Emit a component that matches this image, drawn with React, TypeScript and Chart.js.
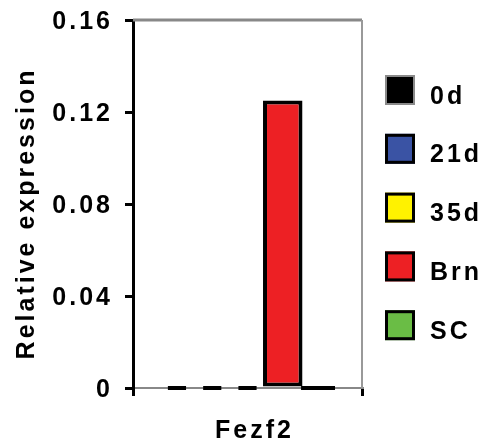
import React, { useEffect, useRef } from 'react';
import { Chart, registerables } from 'chart.js';

Chart.register(...registerables);

// ---- data ----
const categories = ['Fezf2'];
const seriesNames = ['0d', '21d', '35d', 'Brn', 'SC'];
const values0d = [0];
const values21d = [0];
const values35d = [0];
const valuesBrn = [0.125];
const valuesSC = [0];
const yTicks = [0, 0.04, 0.08, 0.12, 0.16];
const yTitle = 'Relative expression';

// ---- styles ----
const seriesColors = ['#000000', '#3A53A4', '#FFF200', '#ED2024', '#6ABD45'];
const legendBorders = ['#8a8a8a', '#000000', '#000000', '#000000', '#000000'];
const dashFractions = [0.46, 0.46, 0.46, 0.46, 0.86];
const FONT = '"Liberation Sans", Arial, sans-serif';
const FONT_SIZE = 25;
const SPACING = '3px';

const spacingPlugin = {
  id: 'letterSpacing',
  beforeUpdate(chart: any) { chart.ctx.letterSpacing = SPACING; },
  beforeLayout(chart: any) { chart.ctx.letterSpacing = SPACING; },
  beforeDraw(chart: any) { chart.ctx.letterSpacing = SPACING; },
};

const framePlugin = {
  id: 'frame',
  beforeDatasetsDraw(chart: any) {
    const { ctx, chartArea } = chart;
    ctx.save();
    ctx.strokeStyle = '#888888';
    ctx.lineWidth = 3;
    ctx.beginPath();
    ctx.moveTo(chartArea.left, chartArea.top);
    ctx.lineTo(chartArea.right, chartArea.top);
    ctx.stroke();
    ctx.strokeStyle = '#999999';
    ctx.lineWidth = 2;
    ctx.beginPath();
    ctx.moveTo(chartArea.right, chartArea.top);
    ctx.lineTo(chartArea.right, chartArea.bottom);
    ctx.stroke();
    ctx.restore();
  },
};

const zeroDashPlugin = {
  id: 'zeroDash',
  afterDatasetsDraw(chart: any) {
    const ctx = chart.ctx;
    chart.data.datasets.forEach((ds: any, i: number) => {
      const meta = chart.getDatasetMeta(i);
      meta.data.forEach((el: any, j: number) => {
        if (ds.data[j] !== 0) return;
        const { x, width, base } = el.getProps(['x', 'width', 'base'], true);
        const half = (width * dashFractions[i]) / 2;
        ctx.save();
        ctx.strokeStyle = '#000';
        ctx.lineWidth = 4;
        ctx.beginPath();
        ctx.moveTo(x - half, base);
        ctx.lineTo(x + half, base);
        ctx.stroke();
        ctx.restore();
      });
    });
  },
};

const legendPlugin = {
  id: 'sideLegend',
  afterDraw(chart: any) {
    const { ctx } = chart;
    const boxX = 385;
    const size = 30;
    const top = 90;
    const step = 58.8;
    ctx.save();
    ctx.letterSpacing = SPACING;
    ctx.font = `bold ${FONT_SIZE}px ${FONT}`;
    ctx.textAlign = 'left';
    ctx.textBaseline = 'alphabetic';
    chart.data.datasets.forEach((ds: any, i: number) => {
      const cy = top + i * step;
      const lw = i === 0 ? 2 : 3;
      ctx.fillStyle = ds.backgroundColor;
      ctx.fillRect(boxX, cy - size / 2, size, size);
      ctx.strokeStyle = legendBorders[i];
      ctx.lineWidth = lw;
      ctx.strokeRect(boxX + lw / 2, cy - size / 2 + lw / 2, size - lw, size - lw);
      ctx.fillStyle = '#000';
      ctx.fillText(ds.label, 430, cy + 13.5);
    });
    ctx.restore();
  },
};

const yTitlePlugin = {
  id: 'yTitle',
  afterDraw(chart: any) {
    const { ctx, chartArea } = chart;
    ctx.save();
    ctx.letterSpacing = SPACING;
    ctx.font = `bold ${FONT_SIZE}px ${FONT}`;
    ctx.fillStyle = '#000';
    ctx.textAlign = 'center';
    ctx.textBaseline = 'middle';
    ctx.translate(27, (chartArea.top + chartArea.bottom) / 2 + 11);
    ctx.rotate(-Math.PI / 2);
    ctx.fillText(yTitle, 1.5, 0);
    ctx.restore();
  },
};

export default function App() {
  const ref = useRef<HTMLCanvasElement | null>(null);

  useEffect(() => {
    document.body.style.margin = '0';
    const canvas = ref.current;
    if (!canvas) return;
    const seriesValues = [values0d, values21d, values35d, valuesBrn, valuesSC];
    const chart = new Chart(canvas, {
      type: 'bar',
      data: {
        labels: categories,
        datasets: seriesNames.map((name, i) => ({
          label: name,
          data: seriesValues[i],
          backgroundColor: seriesColors[i],
          borderColor: '#000000',
          borderWidth: 4,
          borderSkipped: false,
          barPercentage: 1.12,
          categoryPercentage: 0.77,
        })),
      },
      options: {
        responsive: false,
        animation: false,
        layout: { padding: { left: 0, top: 20, right: 123, bottom: 0 } },
        plugins: {
          legend: { display: false },
          tooltip: { enabled: false },
          title: { display: false },
        },
        scales: {
          x: {
            afterFit: (scale: any) => {
              scale.height = 60;
              scale.paddingLeft = 0;
              scale.paddingRight = 0;
            },
            border: { display: true, color: '#888888', width: 2 },
            grid: {
              offset: true,
              drawOnChartArea: false,
              drawTicks: true,
              tickLength: 8,
              color: '#000000',
              lineWidth: 3,
            },
            ticks: {
              font: { family: FONT, size: FONT_SIZE, weight: 'bold' },
              color: '#000000',
              padding: 20,
              labelOffset: 7,
            },
          },
          y: {
            min: 0,
            max: 0.16,
            afterBuildTicks: (scale: any) => {
              scale.ticks = yTicks.map((v) => ({ value: v }));
            },
            afterFit: (scale: any) => {
              scale.width = 133;
              scale.paddingTop = 0;
              scale.paddingBottom = 0;
            },
            border: { display: true, color: '#000000', width: 3 },
            grid: {
              drawOnChartArea: false,
              drawTicks: true,
              tickLength: 8,
              color: '#000000',
              lineWidth: 3,
            },
            ticks: {
              font: { family: FONT, size: FONT_SIZE, weight: 'bold' },
              color: '#000000',
              padding: 12,
              labelOffset: 2,
            },
          },
        },
      },
      plugins: [spacingPlugin, framePlugin, zeroDashPlugin, legendPlugin, yTitlePlugin],
    });
    return () => chart.destroy();
  }, []);

  return (
    <div style={{ width: 485, height: 448 }}>
      <canvas ref={ref} width={485} height={448} />
    </div>
  );
}
